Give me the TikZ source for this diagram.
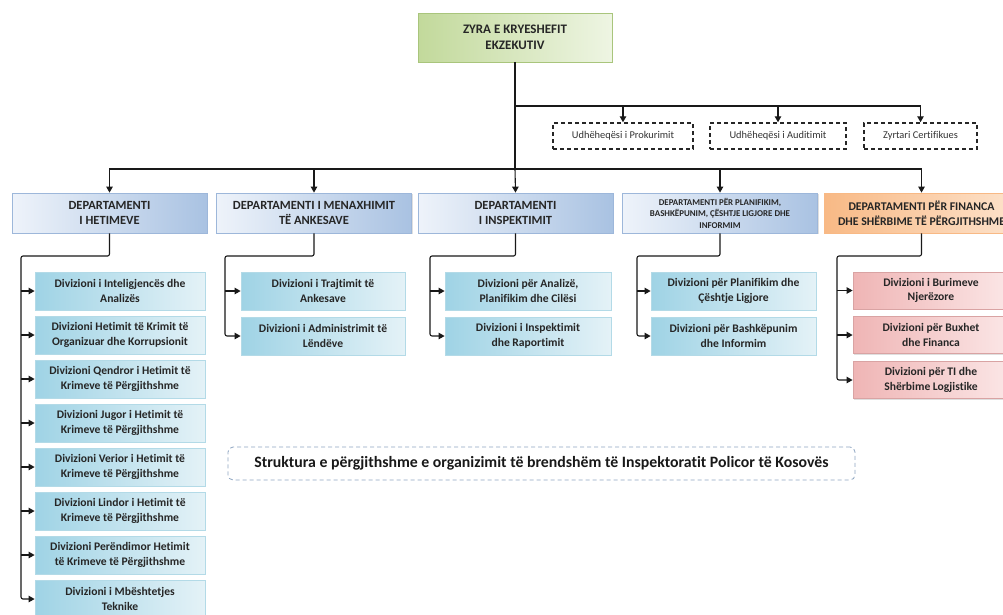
\documentclass[tikz,border=0pt]{standalone}
\usepackage{fontspec}
\setmainfont{Carlito}[Ligatures=NoCommon]
\usetikzlibrary{arrows.meta,shadows}
\definecolor{deptL}{HTML}{EEF3FA}
\definecolor{deptR}{HTML}{A9C2E2}
\definecolor{deptB}{HTML}{9DB7DA}
\definecolor{divL}{HTML}{9FD3E5}
\definecolor{divR}{HTML}{E4F2F7}
\definecolor{divB}{HTML}{B3DAE7}
\definecolor{pinkL}{HTML}{EFB5B5}
\definecolor{pinkR}{HTML}{FBE6E6}
\definecolor{pinkB}{HTML}{D9A3A3}
\definecolor{orL}{HTML}{F8B985}
\definecolor{orR}{HTML}{FDE3CC}
\definecolor{grL}{HTML}{C2D99B}
\definecolor{grR}{HTML}{EEF5E3}
\definecolor{grB}{HTML}{A9C57C}
\definecolor{capB}{HTML}{8FA6C2}
\tikzset{
  conn/.style={line width=1.1pt,draw=black!90},
  arr/.style={conn,-{Triangle[length=6pt,width=6.5pt]}},
  box/.style={rectangle,inner sep=1pt,align=center,font=\bfseries,line width=0.8pt,text=black!85,
     drop shadow={opacity=0.25,shadow xshift=1pt,shadow yshift=-1pt}},
  topbox/.style={box,draw=grB,left color=grL,right color=grR,minimum width=194pt,minimum height=49pt,font=\bfseries\fontsize{13}{16}\selectfont},
  dept/.style={box,draw=deptB,left color=deptL,right color=deptR,minimum width=195pt,minimum height=40pt,font=\bfseries\fontsize{12.5}{15}\selectfont},
  deptsmall/.style={dept,font=\bfseries\fontsize{8.9}{11.5}\selectfont},
  deptor/.style={dept,draw=orL,left color=orL,right color=orR,font=\bfseries\fontsize{11.8}{15}\selectfont},
  divbox/.style={box,draw=divB,left color=divL,right color=divR,minimum height=38pt,font=\bfseries\fontsize{11.6}{14.5}\selectfont},
  pinkbox/.style={divbox,draw=pinkB,left color=pinkL,right color=pinkR,minimum height=37pt},
  dbox/.style={rectangle,draw=black!85,line width=1.5pt,dash pattern=on 4pt off 3pt,minimum height=26pt,inner sep=1pt,font=\fontsize{10.4}{12}\selectfont,text=black!80},
  capbox/.style={rectangle,rounded corners=5pt,draw=capB,line width=0.8pt,dash pattern=on 4pt off 3pt,minimum width=627pt,minimum height=33pt,font=\bfseries\fontsize{15.8}{18}\selectfont,text=black!90}
}
\begin{document}
\begin{tikzpicture}[x=1pt,y=-1pt]
\useasboundingbox (0,0) rectangle (1003,614);
\clip (0,0) rectangle (1003,614);
\fill[white] (0,0) rectangle (1003,614);

% top
\node[topbox] (top) at (515,37.5) {ZYRA E KRYESHEFIT\\EKZEKUTIV};

% staff
\node[dbox,minimum width=140pt] (p1) at (623,136) {Udhëheqësi i Prokurimit};
\node[dbox,minimum width=136pt] (p2) at (778,136) {Udhëheqësi i Auditimit};
\node[dbox,minimum width=113pt] (p3) at (920.5,136) {Zyrtari Certifikues};

% departments
\node[dept] (d1) at (109.5,213) {DEPARTAMENTI\\I HETIMEVE};
\node[dept] (d2) at (314,213) {DEPARTAMENTI I MENAXHIMIT\\TË ANKESAVE};
\node[dept] (d3) at (515.5,213) {DEPARTAMENTI\\I INSPEKTIMIT};
\node[deptsmall] (d4) at (720,213) {DEPARTAMENTI PËR PLANIFIKIM,\\BASHKËPUNIM, ÇËSHTJE LIGJORE DHE\\INFORMIM};
\node[deptor] (d5) at (921.5,213) {DEPARTAMENTI PËR FINANCA\\DHE SHËRBIME TË PËRGJITHSHME};

% connectors top
\coordinate (jt) at (515,106);
\coordinate (cm) at (515,169);
\draw[conn] (top.south) -- (cm);
\draw[arr] (jt) -| (p1.north);
\draw[arr] (jt) -| (p2.north);
\draw[arr] (jt) -| (p3.north);
\draw[arr] (cm) -| (d1.north);
\draw[arr] (cm) -| (d2.north);
\draw[arr] (cm) -- (d3.north);
\draw[arr] (cm) -| (d4.north);
\draw[arr] (cm) -| (d5.north);

% column 1
\begin{scope}[every node/.style={divbox,minimum width=170pt}]
\node (h1) at (120,291) {Divizioni i Inteligjencës dhe\\Analizës};
\node (h2) at (120,335) {Divizioni Hetimit të Krimit të\\Organizuar dhe Korrupsionit};
\node (h3) at (120,379) {Divizioni Qendror i Hetimit të\\Krimeve të Përgjithshme};
\node (h4) at (120,423) {Divizioni Jugor i Hetimit të\\Krimeve të Përgjithshme};
\node (h5) at (120,467) {Divizioni Verior i Hetimit të\\Krimeve të Përgjithshme};
\node (h6) at (120,511) {Divizioni Lindor i Hetimit të\\Krimeve të Përgjithshme};
\node (h7) at (120,555) {Divizioni Perëndimor Hetimit\\të Krimeve të Përgjithshme};
\node (h8) at (120,599) {Divizioni i Mbështetjes\\Teknike};
\end{scope}
\coordinate (j1) at (21,256);
\draw[arr,rounded corners=2pt] (d1.south) |- (j1) |- (h8.west);
\foreach \i in {1,...,7} \draw[arr] (j1 |- h\i.west) -- (h\i.west);

% column 2
\begin{scope}[every node/.style={divbox,minimum width=164pt}]
\node (a1) at (323,291) {Divizioni i Trajtimit të\\Ankesave};
\node (a2) at (323,336) {Divizioni i Administrimit të\\Lëndëve};
\end{scope}
\coordinate (j2) at (225,256);
\draw[arr,rounded corners=2pt] (d2.south) |- (j2) |- (a2.west);
\draw[arr] (j2 |- a1.west) -- (a1.west);

% column 3
\begin{scope}[every node/.style={divbox,minimum width=166pt}]
\node (i1) at (528,291) {Divizioni për Analizë,\\Planifikim dhe Cilësi};
\node (i2) at (528,336) {Divizioni i Inspektimit\\dhe Raportimit};
\end{scope}
\coordinate (j3) at (430,256);
\draw[arr,rounded corners=2pt] (d3.south) |- (j3) |- (i2.west);
\draw[arr] (j3 |- i1.west) -- (i1.west);

% column 4
\begin{scope}[every node/.style={divbox,minimum width=165pt}]
\node (b1) at (733.5,291) {Divizioni për Planifikim dhe\\Çështje Ligjore};
\node (b2) at (733.5,336) {Divizioni për Bashkëpunim\\dhe Informim};
\end{scope}
\coordinate (j4) at (637,256);
\draw[arr,rounded corners=2pt] (d4.south) |- (j4) |- (b2.west);
\draw[arr] (j4 |- b1.west) -- (b1.west);

% column 5
\begin{scope}[every node/.style={pinkbox,minimum width=156pt}]
\node (f1) at (931,290.5) {Divizioni i Burimeve\\Njerëzore};
\node (f2) at (931,335) {Divizioni për Buxhet\\dhe Financa};
\node (f3) at (931,380) {Divizioni për TI dhe\\Shërbime Logjistike};
\end{scope}
\coordinate (j5) at (837,256);
\draw[arr,rounded corners=2pt] (d5.south) |- (j5) |- (f3.west);
\draw[arr] (j5 |- f1.west) -- (f1.west);
\draw[arr] (j5 |- f2.west) -- (f2.west);

% caption
\node[capbox] (cap) at (541.5,463.5) {Struktura e përgjithshme e organizimit të brendshëm të Inspektoratit Policor të Kosovës};
\end{tikzpicture}
\end{document}
